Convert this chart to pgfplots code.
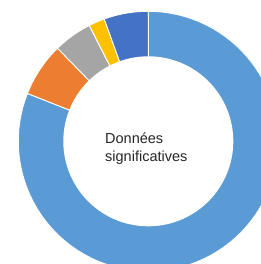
\documentclass[border=0pt]{standalone}
\usepackage{pgfplots}
\pgfplotsset{compat=1.18}
\usepackage{pgfplotstable}
\usepackage{fontspec}
\setmainfont{Liberation Sans}
\definecolor{sliceA}{HTML}{5B9BD5}
\definecolor{sliceB}{HTML}{ED7D31}
\definecolor{sliceC}{HTML}{A5A5A5}
\definecolor{sliceD}{HTML}{FFC000}
\definecolor{sliceE}{HTML}{4472C4}
\pgfplotstableread{
value color
81.0 sliceA
6.7 sliceB
4.8 sliceC
2.0 sliceD
5.5 sliceE
}\slices
\begin{document}
\begin{tikzpicture}
\def\total{0}
\pgfplotsforeachungrouped \i in {0,...,4}{%
  \pgfplotstablegetelem{\i}{value}\of\slices
  \pgfmathsetmacro\total{\total+\pgfplotsretval}%
}
\begin{axis}[
  width=261pt, height=264pt, scale only axis,
  xmin=-148.3, xmax=112.7, ymin=-122.7, ymax=141.3,
  axis lines=none, ticks=none, clip=true,
]
\def\cum{0}
\pgfplotsforeachungrouped \i in {0,...,4}{%
  \pgfplotstablegetelem{\i}{value}\of\slices \let\v\pgfplotsretval
  \pgfplotstablegetelem{\i}{color}\of\slices \let\c\pgfplotsretval
  \pgfmathsetmacro\a{90-360*(\cum/\total)}%
  \pgfmathsetmacro\cum{\cum+\v}%
  \pgfmathsetmacro\b{90-360*(\cum/\total)}%
  \edef\tmp{\noexpand\addplot[fill=\c, draw=white, line width=0.9pt, domain=\b:\a, samples=90, variable=\noexpand\t] ({130*cos(\noexpand\t)},{130*sin(\noexpand\t)}) -- (axis cs:0,0) -- cycle;}%
  \tmp
}
\addplot[fill=white, draw=none, domain=0:360, samples=160] ({85*cos(x)},{85*sin(x)}) -- cycle;
\node[anchor=base west, inner sep=0pt, font=\fontsize{14.5}{17.5}\selectfont, text=black!85] at (axis cs:-43.3,-2.7) {Données};
\node[anchor=base west, inner sep=0pt, font=\fontsize{14.5}{17.5}\selectfont, text=black!85] at (axis cs:-43.3,-20.4) {significatives};
\end{axis}
\pgfresetboundingbox
\useasboundingbox (current axis.south west) rectangle (current axis.north east);
\end{tikzpicture}
\end{document}
